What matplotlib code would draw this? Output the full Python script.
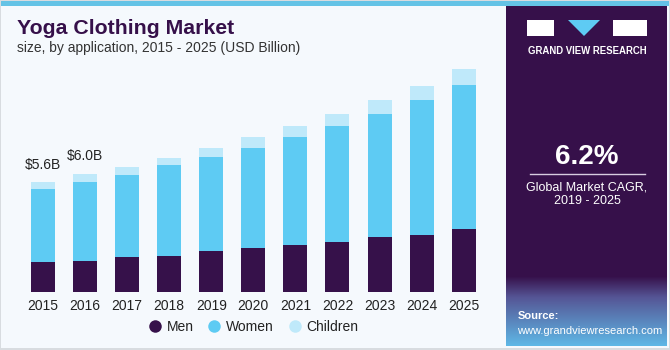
import numpy as np
import matplotlib
matplotlib.use("Agg")
import matplotlib.pyplot as plt
from matplotlib.patches import Rectangle, Polygon
from matplotlib.lines import Line2D

years = ["2015", "2016", "2017", "2018", "2019", "2020", "2021", "2022", "2023", "2024", "2025"]
men = [1.53, 1.61, 1.80, 1.85, 2.12, 2.26, 2.39, 2.58, 2.80, 2.92, 3.24]
women = [3.72, 4.00, 4.18, 4.62, 4.79, 5.11, 5.55, 5.91, 6.31, 6.90, 7.35]
children = [0.36, 0.44, 0.42, 0.37, 0.44, 0.56, 0.54, 0.60, 0.70, 0.70, 0.79]
labels = {0: "$5.6B", 1: "$6.0B"}

C_MEN = "#36114a"
C_WOMEN = "#5ecbf3"
C_CHILD = "#bfe9fa"
BG = "#f5f9fd"
W, H = 670, 350

plt.rcParams['font.family'] = ['Liberation Sans', 'DejaVu Sans']
fig = plt.figure(figsize=(W / 100, H / 100), dpi=100)
fig.patch.set_facecolor("#ffffff")

# background layer in pixel coordinates
bgax = fig.add_axes([0, 0, 1, 1])
bgax.set_xlim(0, W)
bgax.set_ylim(H, 0)
bgax.axis("off")
bgax.add_patch(Rectangle((0, 0), W, H, facecolor="#d8dce0", edgecolor="none"))
bgax.add_patch(Rectangle((1, 1), W - 2, H - 3, facecolor=BG, edgecolor="none"))
bgax.add_patch(Rectangle((1, 1), W - 2, 4.5, facecolor="#64c3e6", edgecolor="none"))
# right panel
bgax.add_patch(Rectangle((506, 5.5), 161, 340.5, facecolor="#36104a", edgecolor="none"))
grad = np.linspace(0, 1, 100)[:, None]
cols = np.zeros((100, 1, 3))
top = np.array([0x36, 0x10, 0x4a]) / 255
mid = np.array([0x55, 0x55, 0x95]) / 255
bot = np.array([0x5f, 0xb8, 0xe6]) / 255
for i, g in enumerate(grad[:, 0]):
    if g < 0.3:
        c = top + (mid - top) * (g / 0.3)
    else:
        c = mid + (bot - mid) * ((g - 0.3) / 0.7)
    cols[i, 0] = c
bgax.imshow(cols, extent=(506, 667, 346, 276), aspect="auto", zorder=1)
# logo
bgax.add_patch(Rectangle((527, 20), 27, 16, facecolor="white", edgecolor="none", zorder=2))
bgax.add_patch(Polygon([(568, 20), (600, 20), (584, 36)], closed=True, facecolor="#5ecbf3", edgecolor="none", zorder=2))
bgax.add_patch(Rectangle((613, 20), 34, 16, facecolor="white", edgecolor="none", zorder=2))
bgax.text(587.5, 51, "GRAND VIEW RESEARCH", color="white", fontsize=6.9, fontweight="bold",
          ha="center", va="center", zorder=3)
bgax.text(587, 157, "6.2%", color="white", fontsize=20, fontweight="bold", ha="center", va="center", zorder=3)
bgax.plot([530, 645], [173.5, 173.5], color="#d8cce0", lw=1, zorder=3)
bgax.text(587, 187, "Global Market CAGR,", color="white", fontsize=9, ha="center", va="center", zorder=3)
bgax.text(587, 201.5, "2019 - 2025", color="white", fontsize=9, ha="center", va="center", zorder=3)
bgax.text(518, 316, "Source:", color="white", fontsize=8, fontweight="bold", ha="left", va="center", zorder=3)
bgax.text(517, 331, "www.grandviewresearch.com", color="white", fontsize=8, ha="left", va="center", zorder=3)

# titles
bgax.text(17, 28.5, "Yoga Clothing Market", color="#36104a", fontsize=15.3, fontweight="heavy",
          ha="left", va="center")
bgax.text(17, 48, "size, by application, 2015 - 2025 (USD Billion)", color="#333333", fontsize=10,
          ha="left", va="center")

# chart axes
left, right, base, topy = 22, 484.7, 292.3, 60
ax = fig.add_axes([left / W, (H - base) / H, (right - left) / W, (base - topy) / H])
ax.set_facecolor("none")
x = np.arange(len(years))
men_a = np.array(men)
women_a = np.array(women)
child_a = np.array(children)
bw = 0.57
ax.bar(x, men_a, bw, color=C_MEN, edgecolor="none")
ax.bar(x, women_a, bw, bottom=men_a, color=C_WOMEN, edgecolor="none")
ax.bar(x, child_a, bw, bottom=men_a + women_a, color=C_CHILD, edgecolor="none")
ax.set_xlim(-0.5, len(years) - 0.5)
ax.set_ylim(0, (base - topy) / 19.6)
ax.set_xticks(x)
ax.set_xticklabels(years, fontsize=10, color="#222222")
ax.tick_params(axis="x", length=0, pad=5)
ax.set_yticks([])
for s in ax.spines.values():
    s.set_visible(False)
totals = men_a + women_a + child_a
for i, t in labels.items():
    ax.text(x[i], totals[i] + 0.55, t, ha="center", va="bottom", fontsize=10, color="#222222")

handles = [Line2D([], [], marker="o", ls="none", markersize=9, markerfacecolor=c, markeredgecolor="none")
           for c in (C_MEN, C_WOMEN, C_CHILD)]
fig.legend(handles, ["Men", "Women", "Children"], loc="center", bbox_to_anchor=(254 / W, 1 - 327 / H),
           ncol=3, frameon=False, fontsize=10, handlelength=0.8, handletextpad=0.45, columnspacing=1.1,
           labelcolor="#222222")

fig.savefig("out.png", dpi=100, facecolor=fig.get_facecolor())
